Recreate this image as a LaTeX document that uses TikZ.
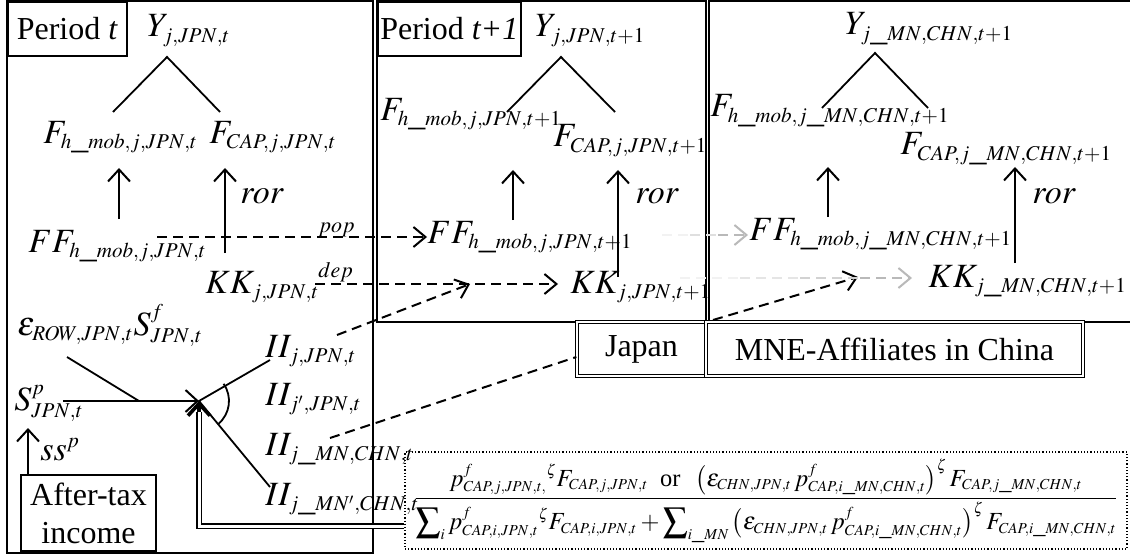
\documentclass[tikz,border=0pt]{standalone}
\usepackage{mathptmx}
\usepackage{fontspec}
\setmainfont{Liberation Serif}
\usepackage{graphicx}
\usetikzlibrary{arrows.meta}
\renewcommand{\defaultscriptratio}{.62}
\renewcommand{\defaultscriptscriptratio}{.45}
\tikzset{
  frame/.style={line width=.8pt},
  mth/.style={inner sep=0pt, anchor=base west},
  lbl/.style={inner sep=0pt, anchor=base west, font=\fontsize{11}{13}\selectfont},
  pbox/.style={draw, line width=.8pt, inner sep=0pt, anchor=north west, minimum height=27pt, font=\fontsize{16}{19}\selectfont},
  dbox/.style={draw, double, double distance=1.2pt, line width=.6pt, inner sep=0pt, minimum height=27pt, font=\fontsize{16}{19}\selectfont},
  treeline/.style={line width=.9pt},
  uparr/.style={line width=1pt, -{Straight Barb[length=6pt,width=11pt]}},
  dasharr/.style={line width=1pt, dash pattern=on 5pt off 3pt, -{Straight Barb[length=6pt,width=10pt]}},
  dashln/.style={line width=1pt, dash pattern=on 5pt off 3pt},
}
\begin{document}
\begin{tikzpicture}[x=0.5pt, y=-0.5pt, every node/.style={font=\fontsize{17}{20}\selectfont}]
\useasboundingbox (0,0) rectangle (1130,556);
% frames of the periods
\draw[frame] (7,1) rectangle (373,553);
\draw[frame] (377,1) rectangle (706,322);
\draw[frame] (709,1) rectangle (1136,322);
\node[pbox, minimum width=59.5pt] (pert) at (7,1) {Period \textit{t}};
\node[pbox, minimum width=71.5pt] (pert1) at (377,1) {Period \textit{t+1}};

% period t, Japan
\node[mth] (yt) at (147,37) {$Y_{j,JPN,t}$};
\node[mth] (fmt) at (43,143) {$F_{h\_mob,j,JPN,t}$};
\node[mth] (fct) at (209,143) {$F_{CAP,j,JPN,t}$};
\node[mth] (rort) at (240,203) {$ror$};
\node[mth] (fft) at (28,252) {$FF_{h\_mob,j,JPN,t}$};
\node[mth] (kkt) at (205,293) {$KK_{j,JPN,t}$};
\node[lbl] (popl) at (318,232) {$pop$};
\node[lbl] (depl) at (318,277) {$dep$};
\node[mth] (eps) at (17,335) {$\varepsilon_{ROW,JPN,t}S^{f}_{JPN,t}$};
\node[mth] (iia) at (265,357) {$II_{j,JPN,t}$};
\node[mth] (iib) at (265,405) {$II_{j',JPN,t}$};
\node[mth] (iic) at (265,455) {$II_{j\_MN,CHN,t}$};
\node[mth] (iid) at (265,505) {$II_{j\_MN',CHN,t}$};
\node[mth] (sp) at (14,410) {$S^{p}_{JPN,t}$};
\node[mth] (ssp) at (40,460) {$ss^{p}$};
\node[draw, line width=.8pt, inner sep=0pt, minimum width=67.5pt, minimum height=38pt,
  align=center, font=\fontsize{16}{19}\selectfont] (inc) at (88.5,513) {After-tax\\income};

\coordinate (yt-s) at (167,57);
\coordinate (fmt-n) at (113,112);
\coordinate (fct-n) at (220,112);
\draw[treeline] (fmt-n) -- (yt-s) -- (fct-n);
\draw[uparr] (119,219) -- (119,168);
\draw[uparr] (225,253) -- (225,168);

% saving goes into investment
\coordinate (J) at (199,401);
\coordinate (eps-s) at (67,357);
\coordinate (eps-m) at (139,401);
\draw[line width=.9pt] (eps-s) -- (eps-m);
\draw[uparr] (63,401) -- (J);
\draw[uparr] (inc.north -| 28,0) -- (28,428);
\draw[line width=.9pt] (270,360) -- (J) -- (270,487);
\draw[line width=.9pt] ([shift={(35:15pt)}]J) arc[start angle=35, end angle=-50, radius=15pt];

% period t+1, Japan
\node[mth] (yt1) at (535,37) {$Y_{j,JPN,t+1}$};
\node[mth] (fmt1) at (380,120) {$F_{h\_mob,j,JPN,t+1}$};
\node[mth] (fct1) at (553,147) {$F_{CAP,j,JPN,t+1}$};
\node[mth] (rort1) at (635,203) {$ror$};
\node[mth] (fft1) at (427,243) {$FF_{h\_mob,j,JPN,t+1}$};
\node[mth] (kkt1) at (570,293) {$KK_{j,JPN,t+1}$};
\coordinate (yt1-s) at (561,57);
\coordinate (fmt1-n) at (507,112);
\coordinate (fct1-n) at (615,112);
\draw[treeline] (fmt1-n) -- (yt1-s) -- (fct1-n);
\draw[uparr] (513,220) -- (513,170);
\draw[uparr] (618,277) -- (618,170);

% period t+1, affiliates in China
\node[mth] (yc) at (845,35) {$Y_{j\_MN,CHN,t+1}$};
\node[mth] (fmc) at (710,117) {$F_{h\_mob,j\_MN,CHN,t+1}$};
\node[mth] (fcc) at (900,155) {$F_{CAP,j\_MN,CHN,t+1}$};
\node[mth] (rorc) at (1032,203) {$ror$};
\node[mth] (ffc) at (749,240) {$FF_{h\_mob,j\_MN,CHN,t+1}$};
\node[mth] (kkc) at (928,287) {$KK_{j\_MN,CHN,t+1}$};
\coordinate (yc-s) at (875,53);
\coordinate (fmc-n) at (822,108);
\coordinate (fcc-n) at (928,108);
\draw[treeline] (fmc-n) -- (yc-s) -- (fcc-n);
\draw[uparr] (828,217) -- (828,167);
\draw[uparr] (1015,263) -- (1015,167);

\node[dbox, minimum width=64.5pt] (japan) at (641.5,349) {Japan};
\node[dbox, minimum width=188.5pt] (mne) at (894.5,349) {MNE-Affiliates in China};

% carry over to the next period
\draw[dasharr] (157,237) -- (fft1.west |- 0,237);
\draw[dasharr] (315,284) -- (558,284);
\draw[dasharr] (337,335) -- (470,284);
\draw[dashln] (330,438) -- (japan.west |- 0,357);
\draw[dasharr] (713,320) -- (858,277);
% faded arrows into China
\draw[dashln, gray!10] (662,235) -- (690,235);
\draw[dashln, gray!25] (690,235) -- (718,235);
\draw[dasharr, gray!55] (718,235) -- (748,235);
\draw[dashln, gray!10] (680,278) -- (740,278);
\draw[dashln, gray!20] (740,278) -- (800,278);
\draw[dashln, gray!35] (800,278) -- (860,278);
\draw[dasharr, gray!55] (860,278) -- (912,278);

% allocation share of investment
\node[draw, densely dotted, line width=.6pt, inner sep=0pt, minimum width=361pt, minimum height=48.5pt] (share) at (766,500.5)
  {\resizebox*{352pt}{42pt}{$\displaystyle\frac{\displaystyle p^{f}_{CAP,j,JPN,t,}{}^{\zeta}F_{CAP,j,JPN,t}\ \mbox{ or }\ \left(\varepsilon_{CHN,JPN,t}\,p^{f}_{CAP,i\_MN,CHN,t}\right)^{\zeta}F_{CAP,j\_MN,CHN,t}}{\displaystyle \sum\nolimits_{i}p^{f}_{CAP,i,JPN,t}{}^{\zeta}F_{CAP,i,JPN,t}+\sum\nolimits_{i\_MN}\left(\varepsilon_{CHN,JPN,t}\,p^{f}_{CAP,i\_MN,CHN,t}\right)^{\zeta}F_{CAP,i\_MN,CHN,t}}$}};
\coordinate (shr-in) at (share.west |- 0,526);
\draw[double, double distance=1.5pt, line width=.6pt] (shr-in) -| (199,412);
\draw[line width=1.8pt, -{Straight Barb[length=6pt,width=11pt]}] (199,412) -- (J);
\end{tikzpicture}
\end{document}
